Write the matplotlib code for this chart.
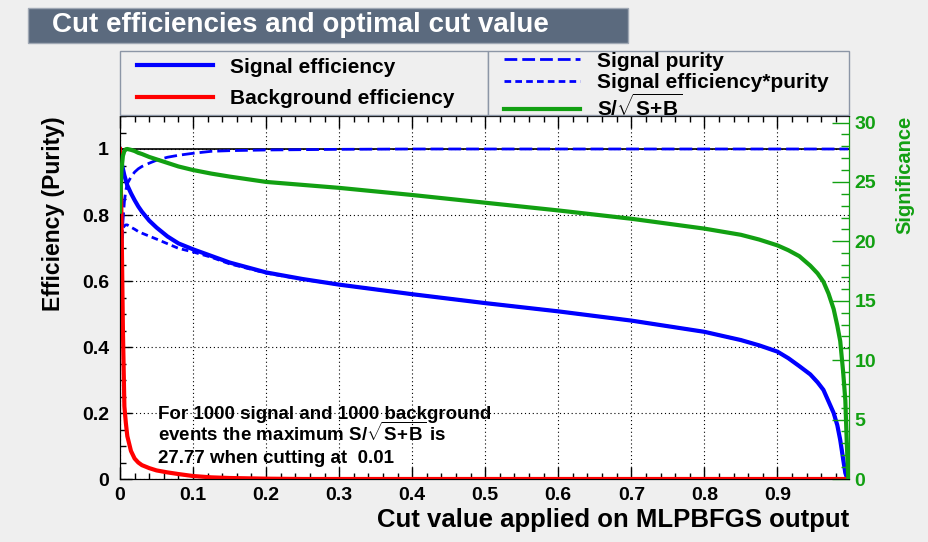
import numpy as np
import matplotlib
matplotlib.use("Agg")
import matplotlib.pyplot as plt
from matplotlib.patches import Rectangle
from matplotlib.ticker import MultipleLocator, FuncFormatter

plt.rcParams['font.family'] = ['Liberation Sans', 'DejaVu Sans']
plt.rcParams['font.weight'] = 'bold'
plt.rcParams['axes.labelweight'] = 'bold'
plt.rcParams['mathtext.fontset'] = 'custom'
plt.rcParams['mathtext.rm'] = 'Liberation Sans:bold'
plt.rcParams['mathtext.bf'] = 'Liberation Sans:bold'

# cut values on the MLPBFGS output
cut_values = [0.0, 0.002, 0.004, 0.006, 0.008, 0.01, 0.015, 0.02, 0.025, 0.03,
              0.04, 0.05, 0.065, 0.08, 0.1, 0.125, 0.15, 0.2, 0.25, 0.3,
              0.4, 0.5, 0.6, 0.7, 0.8, 0.85, 0.875, 0.9, 0.915, 0.93,
              0.945, 0.955, 0.963, 0.97, 0.977, 0.982, 0.986, 0.99, 0.993, 0.995,
              0.997]

signal_eff = [1.0, 0.96, 0.94, 0.92, 0.905, 0.89, 0.866, 0.845, 0.826, 0.81,
              0.783, 0.762, 0.735, 0.714, 0.696, 0.676, 0.656, 0.626, 0.606, 0.589,
              0.56, 0.533, 0.508, 0.48, 0.446, 0.421, 0.405, 0.386, 0.366, 0.342,
              0.317, 0.293, 0.27, 0.235, 0.2, 0.163, 0.118, 0.06, 0.018, 0.005,
              0.0]

background_eff = [1.0, 0.8, 0.45, 0.22, 0.17, 0.13, 0.085, 0.062, 0.05, 0.042,
                  0.033, 0.026, 0.02, 0.015, 0.009, 0.005, 0.003, 0.001, 0.0, 0.0,
                  0.0, 0.0, 0.0, 0.0, 0.0, 0.0, 0.0, 0.0, 0.0, 0.0,
                  0.0, 0.0, 0.0, 0.0, 0.0, 0.0, 0.0, 0.0, 0.0, 0.0,
                  0.0]

signal_purity = [0.5, 0.65, 0.78, 0.84, 0.875, 0.895, 0.915, 0.93, 0.94, 0.947,
                 0.957, 0.966, 0.975, 0.981, 0.987, 0.993, 0.995, 0.997, 0.998, 0.999,
                 1.0, 1.0, 1.0, 1.0, 1.0, 1.0, 1.0, 1.0, 1.0, 1.0,
                 1.0, 1.0, 1.0, 1.0, 1.0, 1.0, 1.0, 1.0, 1.0, 1.0,
                 1.0]

eff_times_purity = [0.5, 0.65, 0.76, 0.767, 0.77, 0.77, 0.763, 0.757, 0.75, 0.745,
                    0.736, 0.727, 0.713, 0.699, 0.688, 0.672, 0.652, 0.624, 0.605, 0.589,
                    0.56, 0.533, 0.508, 0.48, 0.446, 0.421, 0.405, 0.386, 0.366, 0.342,
                    0.317, 0.293, 0.27, 0.235, 0.2, 0.163, 0.118, 0.06, 0.018, 0.005,
                    0.0]

significance = [22.5, 26.0, 27.2, 27.6, 27.75, 27.77, 27.7, 27.6, 27.45, 27.35,
                27.1, 26.9, 26.6, 26.3, 26.0, 25.7, 25.45, 25.0, 24.75, 24.5,
                23.9, 23.25, 22.6, 21.9, 21.07, 20.55, 20.15, 19.66, 19.25, 18.75,
                17.95, 17.3, 16.6, 15.6, 14.3, 12.9, 11.6, 9.0, 6.6, 3.0,
                0.0]

max_sig = 27.77
best_cut = 0.01
n_signal = 1000
n_background = 1000

green = '#12a012'
bg = '#efefef'
sb_label = r'S/$\sqrt{\mathbf{S\!+\!B}}$'

fig = plt.figure(figsize=(9.29, 5.42), dpi=100, facecolor=bg)
ax = fig.add_axes([120 / 929, 63 / 542, 729 / 929, 363 / 542])
ax.set_facecolor('white')

l_sig, = ax.plot(cut_values, signal_eff, color='blue', lw=3.0, label='Signal efficiency', zorder=4)
l_bkg, = ax.plot(cut_values, background_eff, color='red', lw=3.0, label='Background efficiency', zorder=5)
l_pur, = ax.plot(cut_values, signal_purity, color='blue', lw=2.0, ls=(0, (4.6, 1.8)),
                 label='Signal purity', zorder=4)
l_ep, = ax.plot(cut_values, eff_times_purity, color='blue', lw=2.0, ls=(0, (2.4, 1.5)),
                label='Signal efficiency*purity', zorder=4)
ax.axhline(1.0, color='black', lw=1.2, zorder=3)

ax.set_xlim(0, 0.998)
ax.set_ylim(0, 1.1)
ax.xaxis.set_major_locator(MultipleLocator(0.1))
ax.xaxis.set_minor_locator(MultipleLocator(0.02))
ax.yaxis.set_major_locator(MultipleLocator(0.2))
ax.yaxis.set_minor_locator(MultipleLocator(0.05))
ax.xaxis.set_major_formatter(FuncFormatter(lambda v, p: '%g' % round(v, 2)))
ax.yaxis.set_major_formatter(FuncFormatter(lambda v, p: '%g' % round(v, 2)))
ax.tick_params(which='both', direction='in', top=True, right=False, width=1, labelsize=14)
ax.tick_params(which='major', length=8.5)
ax.tick_params(which='minor', length=4.3)
ax.tick_params(axis='x', pad=6)
ax.tick_params(axis='y', pad=8)
ax.grid(True, which='major', color='black', ls=(0, (1, 2.5)), lw=0.8)
ax.set_axisbelow(True)

ax.set_xlabel('Cut value applied on MLPBFGS output', fontsize=18.5, ha='right', x=1.0, labelpad=3)
ax.set_ylabel('Efficiency (Purity)', fontsize=16.5, ha='right', y=1.0, labelpad=12)

ax2 = ax.twinx()
l_sf, = ax2.plot(cut_values, significance, color=green, lw=3.0, label=sb_label, zorder=6)
ax2.set_ylim(0, max_sig * 1.1)
ax2.yaxis.set_major_locator(MultipleLocator(5))
ax2.yaxis.set_minor_locator(MultipleLocator(1))
ax2.tick_params(which='both', direction='in', colors=green, labelsize=14, width=1, pad=4)
ax2.tick_params(which='major', length=12)
ax2.tick_params(which='minor', length=6)
ax2.spines['right'].set_color(green)
ax2.set_ylabel('Significance', color=green, fontsize=14.5, ha='right', y=1.0, labelpad=14)

note_lines = [f'For {n_signal} signal and {n_background} background',
              'events the maximum ' + sb_label + ' is',
              f'{max_sig:.2f} when cutting at  {best_cut:.2f}']
note_y = [0.183, 0.114, 0.047]
for line, yy in zip(note_lines, note_y):
    ax.text(0.052, yy, line, fontsize=13.5, va='baseline', ha='left', zorder=7)

# title box
fig.patches.append(Rectangle((28 / 929, 1 - 43 / 542), 600 / 929, 35 / 542,
                             transform=fig.transFigure, facecolor='#5b6a7e',
                             edgecolor='#a0a8b4', lw=1, zorder=0))
fig.text(52 / 929, 1 - 25.5 / 542, 'Cut efficiencies and optimal cut value',
         color='white', fontsize=20, va='center', ha='left')

# legend frames
for x0, x1 in [(120, 488), (488, 849)]:
    fig.patches.append(Rectangle((x0 / 929, 1 - 115 / 542), (x1 - x0) / 929, 64 / 542,
                                 transform=fig.transFigure, facecolor=bg,
                                 edgecolor='#8c96a6', lw=1, zorder=0))

fig.legend(handles=[l_sig, l_bkg], loc='center left',
           bbox_to_anchor=(137 / 929, 1 - 83 / 542), frameon=False,
           fontsize=15, handlelength=3.65, handletextpad=0.82, labelspacing=0.6,
           borderpad=0, borderaxespad=0)
fig.legend(handles=[l_pur, l_ep, l_sf], loc='center left',
           bbox_to_anchor=(504 / 929, 1 - 86 / 542), frameon=False,
           fontsize=15, handlelength=3.65, handletextpad=0.82, labelspacing=0.1,
           borderpad=0, borderaxespad=0)

fig.savefig('out.png', dpi=100, facecolor=bg)
